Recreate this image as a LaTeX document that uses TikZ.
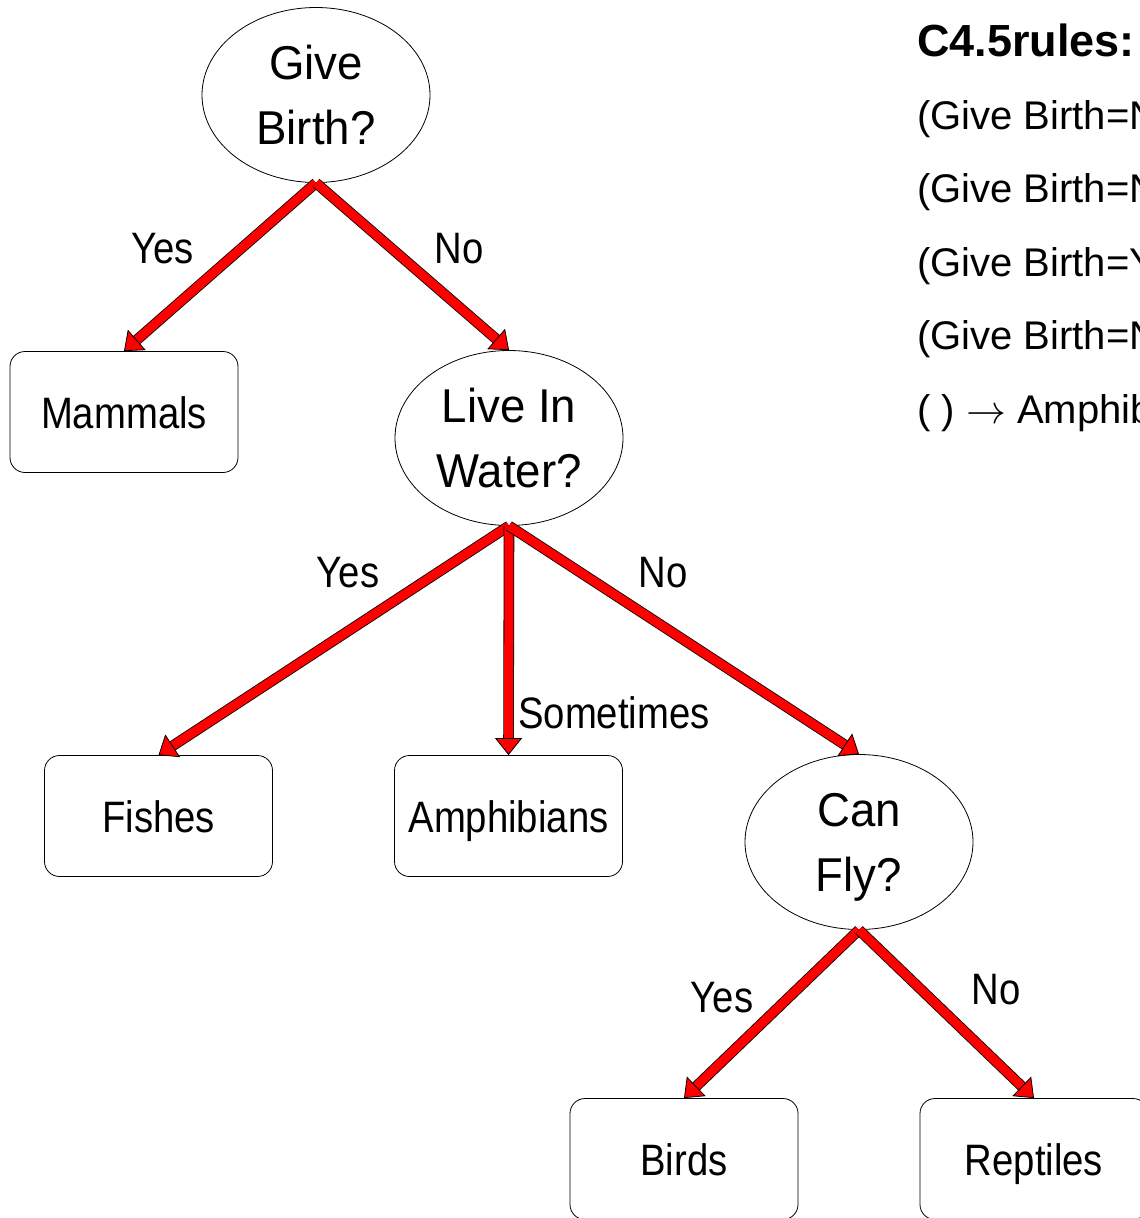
\documentclass[tikz,border=0pt]{standalone}
\usepackage{graphicx}
\usepackage{fontspec}
\setmainfont{Liberation Sans}
\newfontfamily\ellfont[FakeStretch=0.96]{Liberation Sans}
\newfontfamily\boxfont[FakeStretch=0.87]{Liberation Sans}
\usetikzlibrary{arrows.meta,shapes.geometric}
\begin{document}
\begin{tikzpicture}[x=1pt,y=-1pt,
  decision/.style={draw=black, line width=0.8pt, ellipse, minimum width=228pt, minimum height=175pt,
    inner sep=0pt, align=center, font=\ellfont\fontsize{47.5}{65}\selectfont},
  leaf/.style={draw=black, line width=0.8pt, rounded corners=15pt, minimum width=228pt, minimum height=121pt,
    inner sep=0pt, text height=32pt, text depth=0pt, font=\boxfont\fontsize{44}{53}\selectfont},
  lbl/.style={inner sep=0pt, text height=32pt, text depth=0pt, font=\boxfont\fontsize{44}{53}\selectfont},
  rule/.style={anchor=base west, inner sep=0pt, font=\fontsize{40}{48}\selectfont},
  redarrow/.style={draw=red, line width=9pt,
    -{Triangle[length=17pt,width=27pt,line width=0.8pt,fill=red,color=black]},
    preaction={draw=black, line width=10.6pt, arrows=-, shorten >=12pt}}
]
\useasboundingbox (0,0) rectangle (1140,1218);
\clip (0,0) rectangle (1140,1218);

% decision nodes
\node[decision] (gb) at (316,95) {Give\\Birth?};
\node[decision] (lw) at (509,438) {Live In\\Water?};
\node[decision] (cf) at (859,842) {Can\\Fl\smash{y}?};

% leaves
\node[leaf] (mam) at (124,412) {Mammals};
\node[leaf] (fish) at (158.5,816) {Fishes};
\node[leaf] (amph) at (508.5,816) {Amphibians};
\node[leaf] (bird) at (684,1159) {Birds};
\node[leaf] (rept) at (1034,1159) {Reptiles};

% connectors
\draw[redarrow] (gb.south) -- (mam.north);
\draw[redarrow] (gb.south) -- (lw.north);
\draw[redarrow] (lw.south) -- (fish.north);
\draw[redarrow] (lw.south) -- (amph.north);
\draw[redarrow] (lw.south) -- (cf.north);
\draw[redarrow] (cf.south) -- (bird.north);
\draw[redarrow] (cf.south) -- (rept.north);

% edge labels
\node[lbl] (l1) at (162.5,247) {Yes};
\node[lbl] (l2) at (459,247) {No};
\node[lbl] (l3) at (348,571) {Yes};
\node[lbl] (l4) at (614,712.5) {Sometimes};
\node[lbl] (l5) at (663,571) {No};
\node[lbl] (l6) at (722,996) {Yes};
\node[lbl] (l7) at (996,988) {No};

% rules
\node[anchor=base west, inner sep=0pt, font=\bfseries\fontsize{45}{54}\selectfont] (title) at (917,56) {C4.5rules:};
\node[rule] (r1) at (917,129) {(Give Birth=N};
\node[rule] (r2) at (917,202.5) {(Give Birth=N};
\node[rule] (r3) at (917,276) {(Give Birth=Y};
\node[rule] (r4) at (917,349.5) {(Give Birth=N};
\node[rule] (r5) at (917,423) {( ) \scalebox{1.6}{$\rightarrow$} Amphib};
\end{tikzpicture}
\end{document}
